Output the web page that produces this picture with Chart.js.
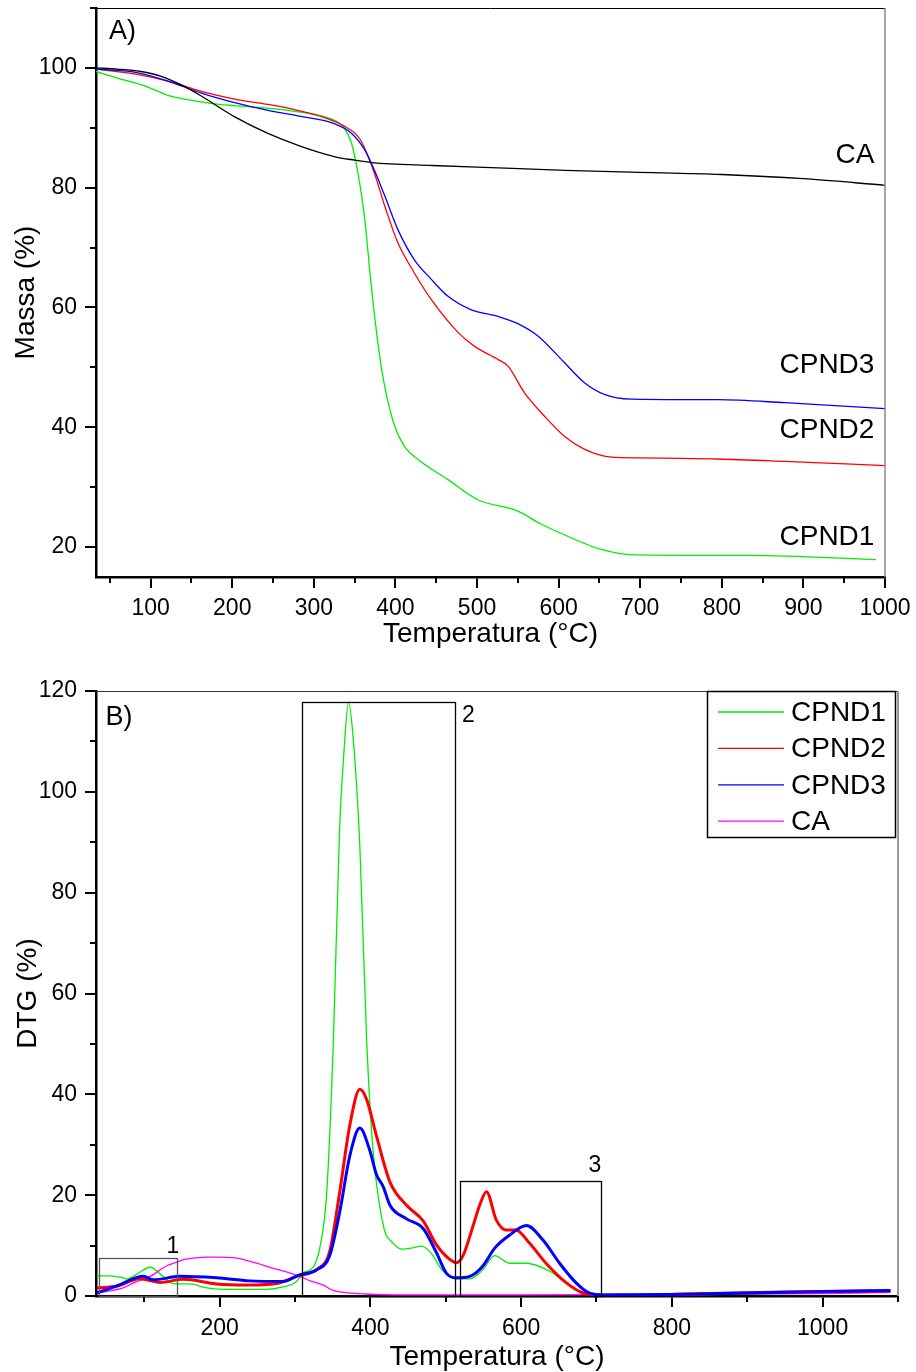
<!DOCTYPE html>
<html><head><meta charset="utf-8">
<script src="https://cdn.jsdelivr.net/npm/chart.js@4.4.1/dist/chart.umd.min.js"></script>
<style>
html,body{margin:0;padding:0;background:#fff;}
#wrapA{position:absolute;left:0;top:0;width:916px;height:660px;}
#wrapB{position:absolute;left:0;top:660px;width:916px;height:712px;}
canvas{display:block;}
</style></head><body>
<div id="wrapA"><canvas id="cA" width="916" height="660"></canvas></div>
<div id="wrapB"><canvas id="cB" width="916" height="712"></canvas></div>
<script>
const FONT = '"Liberation Sans", Arial, sans-serif';

// ---------- Panel A (TGA, Massa %) ----------
const tempA_CA    = [33, 59, 88, 113, 137, 162, 202, 243, 284, 325, 350, 371, 445, 526, 608, 689, 800, 900, 1000];
const massa_CA    = [100, 99.8, 99.4, 98.6, 97.2, 95.3, 91.9, 89.1, 86.9, 85.2, 84.6, 84.2, 83.7, 83.3, 82.9, 82.6, 82.2, 81.5, 80.4];
const tempA_CPND1 = [33, 59, 88, 109, 121, 145, 178, 203, 243, 284, 321, 337, 346, 354, 362, 370, 378, 386, 399, 411, 431, 464, 501, 550, 579, 611, 652, 693, 836, 989];
const massa_CPND1 = [99.4, 98.3, 97.2, 96.1, 95.4, 94.7, 94.0, 93.7, 93.3, 92.6, 91.5, 90.0, 87.5, 82.5, 75.2, 64.1, 54.6, 47.4, 40.2, 36.8, 34.3, 31.3, 27.9, 26.0, 23.8, 21.8, 19.6, 18.7, 18.6, 17.9];
const tempA_CPND2 = [33, 80, 121, 162, 203, 244, 284, 313, 337, 357, 374, 387, 403, 423, 444, 477, 497, 526, 538, 558, 583, 607, 632, 665, 697, 795, 877, 1000];
const massa_CPND2 = [99.8, 99.0, 97.8, 96.1, 94.8, 93.9, 92.8, 91.7, 90.3, 88.0, 82.5, 76.9, 70.8, 65.8, 61.3, 55.8, 53.5, 51.3, 50.2, 45.8, 41.8, 38.5, 36.3, 35.0, 34.9, 34.7, 34.3, 33.6];
const tempA_CPND3 = [33, 80, 121, 162, 203, 244, 284, 325, 346, 362, 374, 387, 403, 423, 444, 464, 493, 526, 550, 575, 607, 632, 656, 689, 795, 877, 1000];
const massa_CPND3 = [99.8, 99.3, 97.8, 95.8, 94.2, 92.9, 91.9, 90.7, 89.1, 86.4, 83.0, 78.6, 73.0, 68.0, 64.7, 61.9, 59.6, 58.5, 57.3, 55.2, 50.8, 47.4, 45.5, 44.7, 44.6, 44.1, 43.1];
const ticksA_x = [100, 200, 300, 400, 500, 600, 700, 800, 900, 1000];
const minorA_x = [50, 150, 250, 350, 450, 550, 650, 750, 850, 950];
const ticksA_y = [20, 40, 60, 80, 100];
const minorA_y = [30, 50, 70, 90, 110];

// ---------- Panel B (DTG %) ----------
const tempB_CPND1 = [37, 55, 72, 77, 90, 108, 125, 139, 161, 183, 218, 262, 284, 302, 311, 324, 333, 342, 351, 359, 365, 371, 377, 386, 395, 403, 417, 430, 443, 455, 468, 480, 496, 514, 532, 549, 565, 585, 607, 638, 660, 682, 720, 800, 900, 1000, 1090];
const dtg_CPND1   = [4.0, 4.0, 3.6, 3.4, 4.3, 5.7, 3.9, 2.4, 2.4, 1.6, 1.3, 1.3, 1.8, 2.9, 4.6, 5.7, 9.6, 20.3, 51.0, 92.0, 108.0, 117.8, 111.0, 89.3, 51.0, 30.0, 14.1, 10.5, 9.3, 9.5, 9.9, 8.6, 5.0, 3.4, 3.4, 5.2, 8.0, 6.5, 6.5, 4.9, 2.6, 0.6, 0.2, 0.2, 0.4, 0.6, 0.8];
const tempB_CPND2 = [37, 64, 94, 121, 152, 196, 236, 276, 302, 329, 346, 359, 373, 386, 395, 408, 426, 448, 470, 487, 501, 509, 514, 523, 536, 545, 554, 567, 580, 593, 611, 633, 660, 682, 700, 750, 850, 950, 1090];
const dtg_CPND2   = [1.6, 2.0, 3.4, 2.7, 3.3, 2.4, 2.2, 2.5, 3.9, 5.3, 8.8, 20.3, 34.1, 41.0, 39.0, 31.8, 22.6, 18.0, 14.9, 10.3, 7.8, 6.9, 6.6, 8.0, 13.8, 18.0, 20.7, 15.1, 13.1, 13.1, 10.5, 6.5, 2.6, 0.6, 0.2, 0.2, 0.5, 0.8, 1.0];
const tempB_CPND3 = [37, 64, 99, 112, 147, 196, 240, 284, 306, 329, 346, 359, 373, 386, 399, 408, 417, 426, 448, 470, 487, 501, 514, 532, 549, 565, 585, 607, 629, 651, 673, 690, 710, 800, 900, 1000, 1090];
const dtg_CPND3   = [0.6, 2.0, 3.9, 3.2, 3.9, 3.6, 3.0, 2.9, 4.2, 5.2, 8.0, 16.4, 28.0, 33.3, 29.0, 24.1, 21.7, 18.0, 15.3, 13.4, 8.8, 4.5, 3.6, 3.9, 5.9, 9.5, 12.1, 14.0, 11.1, 6.5, 2.6, 0.6, 0.2, 0.3, 0.6, 0.9, 1.1];
const tempB_CA    = [37, 72, 86, 108, 130, 143, 152, 187, 196, 218, 249, 271, 293, 311, 320, 337, 351, 395, 450, 600, 800, 1000, 1090];
const dtg_CA      = [0.6, 1.6, 2.6, 3.9, 6.0, 6.7, 7.2, 7.7, 7.7, 7.6, 6.5, 5.5, 4.6, 3.6, 3.0, 2.2, 1.1, 0.4, 0.2, 0.2, 0.3, 0.5, 0.7];
const ticksB_x = [200, 400, 600, 800, 1000];
const minorB_x = [100, 300, 500, 700, 900, 1100];
const ticksB_y = [0, 20, 40, 60, 80, 100, 120];
const minorB_y = [10, 30, 50, 70, 90, 110];

const seriesNames = ['CPND1', 'CPND2', 'CPND3', 'CA'];

function pts(xs, ys) { return xs.map((x, i) => ({x: x, y: ys[i]})); }

function makeScales(o) {
  return {
    x: {
      type: 'linear', position: 'bottom', min: o.xmin, max: o.xmax,
      afterBuildTicks: s => { s.ticks = o.xt.map(v => ({value: v})); },
      afterFit: s => { s.height = o.xh; s.paddingLeft = 0; s.paddingRight = 0; },
      ticks: {font: {family: FONT, size: 23}, color: '#000', padding: o.xpad, maxRotation: 0, autoSkip: false, callback: v => String(v)},
      grid: {drawOnChartArea: false, drawTicks: true, tickLength: 11, color: '#000', lineWidth: 2},
      border: {display: true, color: '#000', width: 2.5},
      title: {display: true, text: 'Temperatura (°C)', font: {family: FONT, size: 28}, color: '#000', padding: {top: 0, bottom: o.xtp}}
    },
    y: {
      type: 'linear', position: 'left', min: o.ymin, max: o.ymax,
      afterBuildTicks: s => { s.ticks = o.yt.map(v => ({value: v})); },
      afterFit: s => { s.width = 96; s.paddingTop = 0; s.paddingBottom = 0; },
      ticks: {font: {family: FONT, size: 23}, color: '#000', padding: 8, autoSkip: false, callback: v => String(v)},
      grid: {drawOnChartArea: false, drawTicks: true, tickLength: 11, color: '#000', lineWidth: 2},
      border: {display: true, color: '#000', width: 2.5},
      title: {display: true, text: o.ytitle, font: {family: FONT, size: 28}, color: '#000', padding: {top: o.ytp, bottom: 0}}
    }
  };
}

const decor = {
  id: 'decor',
  afterDraw(chart, args, o) {
    const ctx = chart.ctx, a = chart.chartArea, x = chart.scales.x, y = chart.scales.y;
    ctx.save();
    ctx.lineWidth = o.topW; ctx.strokeStyle = o.topC;
    ctx.beginPath(); ctx.moveTo(a.left, a.top + 0.5); ctx.lineTo(a.right, a.top + 0.5); ctx.stroke();
    ctx.lineWidth = o.rightW; ctx.strokeStyle = o.rightC;
    ctx.beginPath(); ctx.moveTo(a.right, a.top); ctx.lineTo(a.right, a.bottom); ctx.stroke();
    ctx.strokeStyle = '#000'; ctx.lineWidth = 2;
    o.minorX.forEach(v => { const p = Math.round(x.getPixelForValue(v)); ctx.beginPath(); ctx.moveTo(p, a.bottom); ctx.lineTo(p, a.bottom + 6); ctx.stroke(); });
    o.minorY.forEach(v => { const p = Math.round(y.getPixelForValue(v)); ctx.beginPath(); ctx.moveTo(a.left, p); ctx.lineTo(a.left - 6, p); ctx.stroke(); });
    (o.boxes || []).forEach(b => {
      const x0 = x.getPixelForValue(b.x0), x1 = x.getPixelForValue(b.x1);
      const y0 = y.getPixelForValue(b.y0), y1 = y.getPixelForValue(b.y1);
      ctx.strokeStyle = b.color; ctx.lineWidth = 1.3;
      ctx.strokeRect(Math.round(x0) + 0.5, Math.round(y1) + 0.5, Math.round(x1 - x0), Math.round(y0 - y1));
    });
    ctx.fillStyle = '#000'; ctx.textBaseline = 'middle';
    o.texts.forEach(t => {
      ctx.font = t.size + 'px ' + FONT; ctx.textAlign = t.align;
      ctx.fillText(t.text, x.getPixelForValue(t.x), y.getPixelForValue(t.y));
    });
    if (o.legend) {
      const L = a.right - 191, R = a.right - 2, T = a.top, B = a.top + 147;
      ctx.fillStyle = '#fff'; ctx.fillRect(L, T, R - L, B - T);
      ctx.strokeStyle = '#000'; ctx.lineWidth = 1.5; ctx.strokeRect(L + 0.5, T + 0.5, R - L - 1, B - T - 1);
      chart.data.datasets.forEach((d, i) => {
        const cy = T + 21 + i * 36.4;
        ctx.strokeStyle = d.borderColor; ctx.lineWidth = 1.3;
        ctx.beginPath(); ctx.moveTo(L + 11, cy); ctx.lineTo(L + 77, cy); ctx.stroke();
        ctx.fillStyle = '#000'; ctx.font = '28px ' + FONT; ctx.textAlign = 'left';
        ctx.fillText(d.label, L + 84, cy + 1);
      });
    }
    ctx.restore();
  }
};

function ds(label, xs, ys, color, w, order) {
  return {label: label, data: pts(xs, ys), borderColor: color, backgroundColor: color, borderWidth: w,
          pointRadius: 0, fill: false, cubicInterpolationMode: 'monotone', order: order};
}

new Chart(document.getElementById('cA'), {
  type: 'line',
  data: {datasets: [
    ds('CPND1', tempA_CPND1, massa_CPND1, '#00ee00', 1.3, 4),
    ds('CPND2', tempA_CPND2, massa_CPND2, '#ff0000', 1.3, 3),
    ds('CPND3', tempA_CPND3, massa_CPND3, '#0000ff', 1.3, 2),
    ds('CA', tempA_CA, massa_CA, '#000000', 1.3, 1)
  ]},
  options: {
    responsive: false, animation: false, events: [],
    layout: {padding: {left: 0, top: 8, right: 31, bottom: 0}},
    scales: makeScales({xmin: 33, xmax: 1000, ymin: 15, ymax: 110, xt: ticksA_x, yt: ticksA_y, xh: 83, xpad: 7, xtp: 9, ytitle: 'Massa (%)', ytp: 9}),
    plugins: {
      legend: {display: false}, tooltip: {enabled: false},
      decor: {
        topW: 1, topC: '#000', rightW: 1.5, rightC: '#888',
        minorX: minorA_x, minorY: minorA_y,
        texts: [
          {text: 'A)', x: 49, y: 106.0, align: 'left', size: 27},
          {text: 'CA', x: 987, y: 85.4, align: 'right', size: 28},
          {text: 'CPND3', x: 987, y: 50.3, align: 'right', size: 28},
          {text: 'CPND2', x: 987, y: 39.5, align: 'right', size: 28},
          {text: 'CPND1', x: 987, y: 21.6, align: 'right', size: 28}
        ]
      }
    }
  },
  plugins: [decor]
});

new Chart(document.getElementById('cB'), {
  type: 'line',
  data: {datasets: [
    ds(seriesNames[0], tempB_CPND1, dtg_CPND1, '#00ee00', 1.3, 4),
    ds(seriesNames[1], tempB_CPND2, dtg_CPND2, '#ff0000', 3, 2),
    ds(seriesNames[2], tempB_CPND3, dtg_CPND3, '#0000ff', 3, 1),
    ds(seriesNames[3], tempB_CA, dtg_CA, '#ff00ff', 1.3, 3)
  ]},
  options: {
    responsive: false, animation: false, events: [],
    layout: {padding: {left: 0, top: 31, right: 18, bottom: 0}},
    scales: makeScales({xmin: 36, xmax: 1100, ymin: 0, ymax: 120, xt: ticksB_x, yt: ticksB_y, xh: 76, xpad: 8, xtp: -2, ytitle: 'DTG (%)', ytp: 11}),
    plugins: {
      legend: {display: false}, tooltip: {enabled: false},
      decor: {
        topW: 1, topC: '#333', rightW: 2, rightC: '#999',
        minorX: minorB_x, minorY: minorB_y,
        boxes: [
          {x0: 40.5, x1: 143.8, y0: 0, y1: 7.5, color: '#555'},
          {x0: 309.4, x1: 513, y0: 0, y1: 117.8, color: '#000'},
          {x0: 519.2, x1: 706, y0: 0, y1: 22.8, color: '#000'}
        ],
        texts: [
          {text: 'B)', x: 48.5, y: 114.8, align: 'left', size: 27},
          {text: '1', x: 138, y: 9.8, align: 'center', size: 23},
          {text: '2', x: 530, y: 115.1, align: 'center', size: 23},
          {text: '3', x: 698, y: 25.8, align: 'center', size: 23}
        ],
        legend: true
      }
    }
  },
  plugins: [decor]
});
</script>
</body></html>
